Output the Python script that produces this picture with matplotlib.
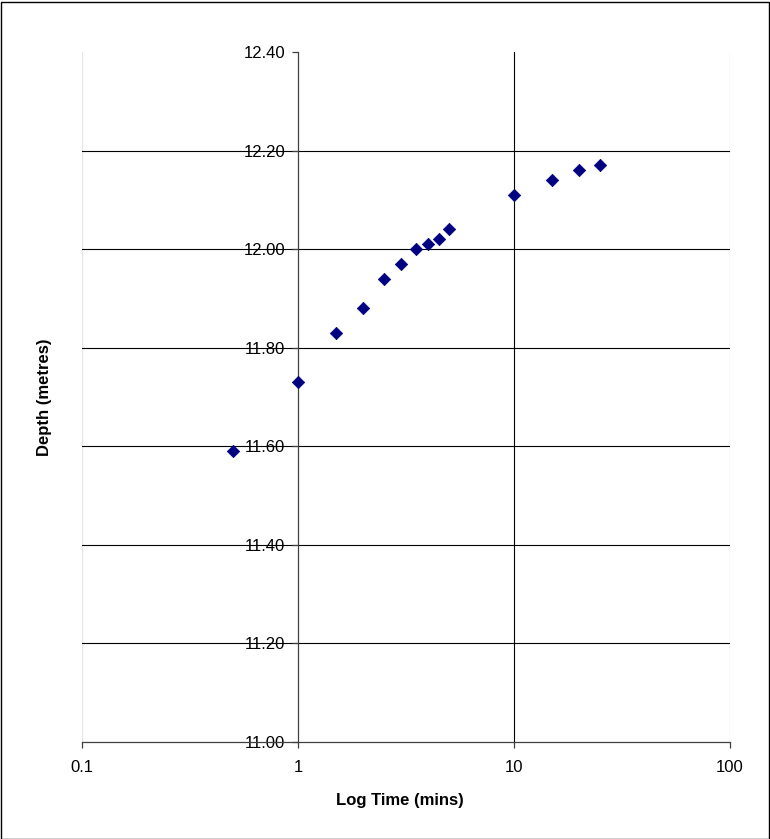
import matplotlib
matplotlib.use("Agg")
import matplotlib.pyplot as plt
from matplotlib.ticker import FixedLocator, FuncFormatter, NullLocator
from matplotlib.patches import Rectangle

# ---- data ----
time_mins = [0.5, 1, 1.5, 2, 2.5, 3, 3.5, 4, 4.5, 5, 10, 15, 20, 25]
depth_m = [11.59, 11.73, 11.83, 11.88, 11.94, 11.97, 12.00, 12.01, 12.02, 12.04,
           12.11, 12.14, 12.16, 12.17]
x_ticks = [0.1, 1, 10, 100]
x_tick_labels = ["0.1", "1", "10", "100"]
y_ticks = [11.00, 11.20, 11.40, 11.60, 11.80, 12.00, 12.20, 12.40]

plt.rcParams["font.family"] = ["Liberation Sans", "DejaVu Sans"]
plt.rcParams["font.size"] = 12

W, H = 770, 839
fig = plt.figure(figsize=(W / 100, H / 100), dpi=100)
ax = fig.add_axes([82 / W, 97 / H, 648 / W, 690 / H])

# gridlines (Excel style)
for y in y_ticks[1:-1]:
    ax.axhline(y, color="black", lw=0.8, zorder=1)
ax.axvline(10, color="black", lw=0.8, zorder=1)
ax.axvline(0.1, color="#e6e6e6", lw=1.0, zorder=0)
ax.axvline(100, color="#e6e6e6", lw=1.0, zorder=0)

ax.scatter(time_mins, depth_m, marker="D", s=40, color="#000080",
           edgecolors="#000080", linewidths=0.5, zorder=3)

ax.set_xscale("log")
ax.set_xlim(0.1, 100)
ax.set_ylim(11.0, 12.4)

ax.xaxis.set_major_locator(FixedLocator(x_ticks))
ax.xaxis.set_major_formatter(FuncFormatter(
    lambda v, p: x_tick_labels[x_ticks.index(v)] if v in x_ticks else ""))
ax.xaxis.set_minor_locator(NullLocator())
ax.yaxis.set_major_locator(FixedLocator(y_ticks))
ax.yaxis.set_major_formatter(FuncFormatter(lambda v, p: f"{v:.2f}"))

# y axis crosses at x = 1
ax.spines["left"].set_position(("data", 1))
ax.spines["top"].set_visible(False)
ax.spines["right"].set_visible(False)
for s in ("left", "bottom"):
    ax.spines[s].set_color("#404040")
    ax.spines[s].set_linewidth(0.9)
    ax.spines[s].set_zorder(2)

ax.tick_params(axis="y", direction="out", length=4.3, width=0.9, color="#404040", pad=5)
ax.tick_params(axis="x", direction="out", length=4.3, width=0.9, color="#404040", pad=9)

ax.set_xlabel("Log Time (mins)", fontweight="bold", fontsize=12)
ax.set_ylabel("Depth (metres)", fontweight="bold", fontsize=12)
ax.xaxis.set_label_coords(400 / W, 1 - 800 / H, transform=fig.transFigure)
ax.xaxis.label.set_verticalalignment("center")
ax.yaxis.set_label_coords(45 / W, 1 - 397 / H, transform=fig.transFigure)
ax.yaxis.label.set_verticalalignment("center")

# figure border
fig.patches.append(Rectangle((0.5 / W, 0.5 / H), (W - 2) / W, (H - 2) / H,
                             transform=fig.transFigure, fill=False,
                             edgecolor="black", lw=1.0))

fig.savefig("out.png", dpi=100)
